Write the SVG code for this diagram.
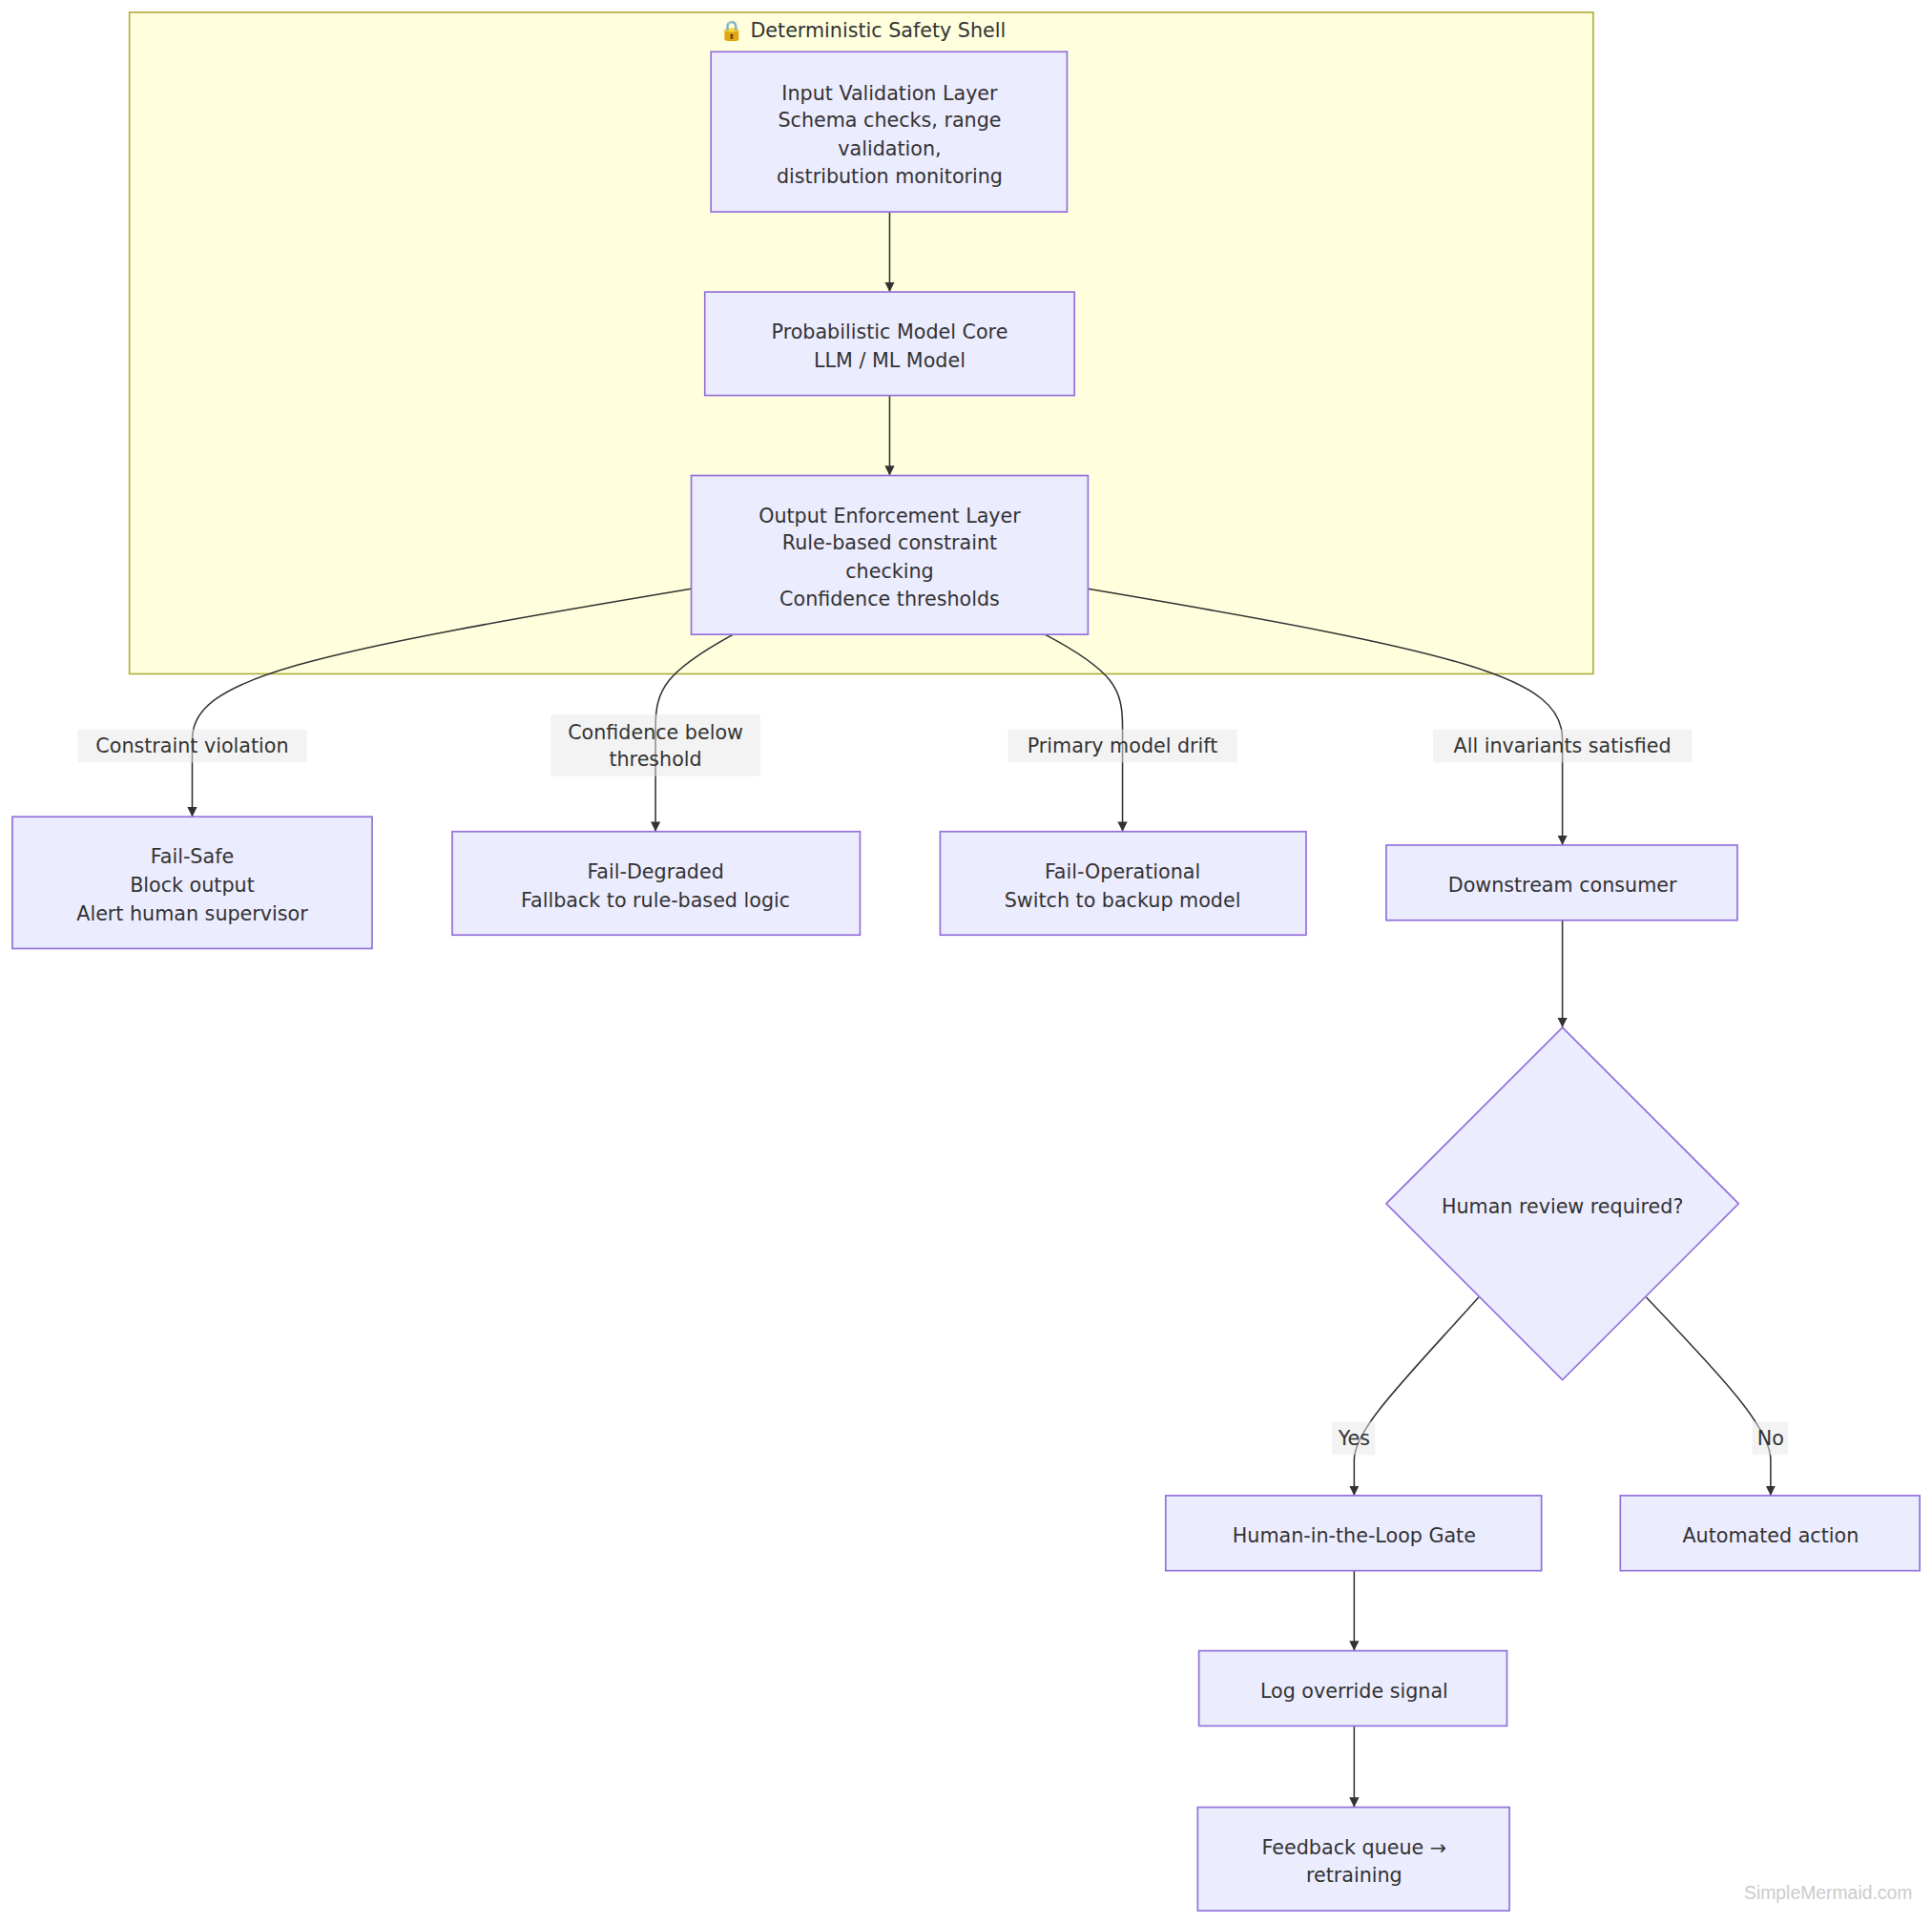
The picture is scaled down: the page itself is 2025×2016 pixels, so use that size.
<svg xmlns="http://www.w3.org/2000/svg" width="2025" height="2016" viewBox="0 0 2025 2016">
<defs>
<marker id="arr" viewBox="0 0 10 10" refX="10" refY="5" markerWidth="8" markerHeight="8" markerUnits="userSpaceOnUse" orient="auto"><path d="M0,0 L10,5 L0,10 z" fill="#333"/></marker>
<style>
.n{fill:#ececff;stroke:#9370db;stroke-width:1.3}
.t{font-family:"DejaVu Sans","Noto Sans",sans-serif;font-size:16px;fill:#333;text-anchor:middle}
.e{fill:none;stroke:#333;stroke-width:1.2;marker-end:url(#arr)}
.lb{fill:#e8e8e8;opacity:0.5}
</style>
</defs>
<rect width="2025" height="2016" fill="#fff"/>
<g transform="scale(1.2915)">
<g id="cluster">
<rect x="105" y="10" width="1188" height="537" fill="#ffffde" stroke="#aaaa33" stroke-width="1.2"/>
<text class="t" x="700" y="30">🔒 Deterministic Safety Shell</text>
</g>
<g id="edges">
<path class="e" d="M722,172 L722,237"/>
<path class="e" d="M722,321 L722,386"/>
<path class="e" d="M561,478 C250,530 156,550 156,600 L156,663"/>
<path class="e" d="M595,515 C540,545 532,560 532,590 L532,675"/>
<path class="e" d="M848,515 C905,545 911,560 911,590 L911,675"/>
<path class="e" d="M883,478 C1190,530 1268,550 1268,600 L1268,686"/>
<path class="e" d="M1268,747 L1268,834"/>
<path class="e" d="M1200,1053 C1140,1120 1099,1160 1099,1185 L1099,1214"/>
<path class="e" d="M1336,1053 C1400,1120 1437,1160 1437,1185 L1437,1214"/>
<path class="e" d="M1099,1275 L1099,1340"/>
<path class="e" d="M1099,1401 L1099,1467"/>
<rect class="lb" x="63" y="592" width="186" height="27"/><text class="t" x="156" y="611">Constraint violation</text>
<rect class="lb" x="447" y="580" width="170" height="50"/><text class="t" x="532" y="600">Confidence below</text><text class="t" x="532" y="622">threshold</text>
<rect class="lb" x="818" y="592" width="186" height="27"/><text class="t" x="911" y="611">Primary model drift</text>
<rect class="lb" x="1163" y="592" width="210" height="27"/><text class="t" x="1268" y="611">All invariants satisfied</text>
<rect class="lb" x="1081" y="1154" width="35" height="27"/><text class="t" x="1099" y="1173">Yes</text>
<rect class="lb" x="1422" y="1154" width="29" height="27"/><text class="t" x="1437" y="1173">No</text>
</g>
<g id="input"><rect class="n" x="577" y="42" width="289" height="130"/>
<text class="t" x="722" y="81">Input Validation Layer</text><text class="t" x="722" y="103">Schema checks, range</text><text class="t" x="722" y="126">validation,</text><text class="t" x="722" y="149">distribution monitoring</text></g>
<g id="model"><rect class="n" x="572" y="237" width="300" height="84"/>
<text class="t" x="722" y="275">Probabilistic Model Core</text><text class="t" x="722" y="298">LLM / ML Model</text></g>
<g id="output"><rect class="n" x="561" y="386" width="322" height="129"/>
<text class="t" x="722" y="424">Output Enforcement Layer</text><text class="t" x="722" y="446">Rule-based constraint</text><text class="t" x="722" y="469">checking</text><text class="t" x="722" y="492">Confidence thresholds</text></g>
<g id="failsafe"><rect class="n" x="10" y="663" width="292" height="107"/>
<text class="t" x="156" y="701">Fail-Safe</text><text class="t" x="156" y="724">Block output</text><text class="t" x="156" y="747">Alert human supervisor</text></g>
<g id="faildeg"><rect class="n" x="367" y="675" width="331" height="84"/>
<text class="t" x="532" y="713">Fail-Degraded</text><text class="t" x="532" y="736">Fallback to rule-based logic</text></g>
<g id="failop"><rect class="n" x="763" y="675" width="297" height="84"/>
<text class="t" x="911" y="713">Fail-Operational</text><text class="t" x="911" y="736">Switch to backup model</text></g>
<g id="down"><rect class="n" x="1125" y="686" width="285" height="61"/>
<text class="t" x="1268" y="724">Downstream consumer</text></g>
<g id="decision"><polygon class="n" points="1268,834 1411,977 1268,1120 1125,977"/>
<text class="t" x="1268" y="985">Human review required?</text></g>
<g id="hitl"><rect class="n" x="946" y="1214" width="305" height="61"/>
<text class="t" x="1099" y="1252">Human-in-the-Loop Gate</text></g>
<g id="auto"><rect class="n" x="1315" y="1214" width="243" height="61"/>
<text class="t" x="1437" y="1252">Automated action</text></g>
<g id="log"><rect class="n" x="973" y="1340" width="250" height="61"/>
<text class="t" x="1099" y="1378">Log override signal</text></g>
<g id="feedback"><rect class="n" x="972" y="1467" width="253" height="84"/>
<text class="t" x="1099" y="1505">Feedback queue →</text><text class="t" x="1099" y="1528">retraining</text></g>
<text x="1552" y="1542" style="font-family:'Liberation Sans',sans-serif;font-size:15px;fill:#ccc;text-anchor:end">SimpleMermaid.com</text>
</g>
</svg>
